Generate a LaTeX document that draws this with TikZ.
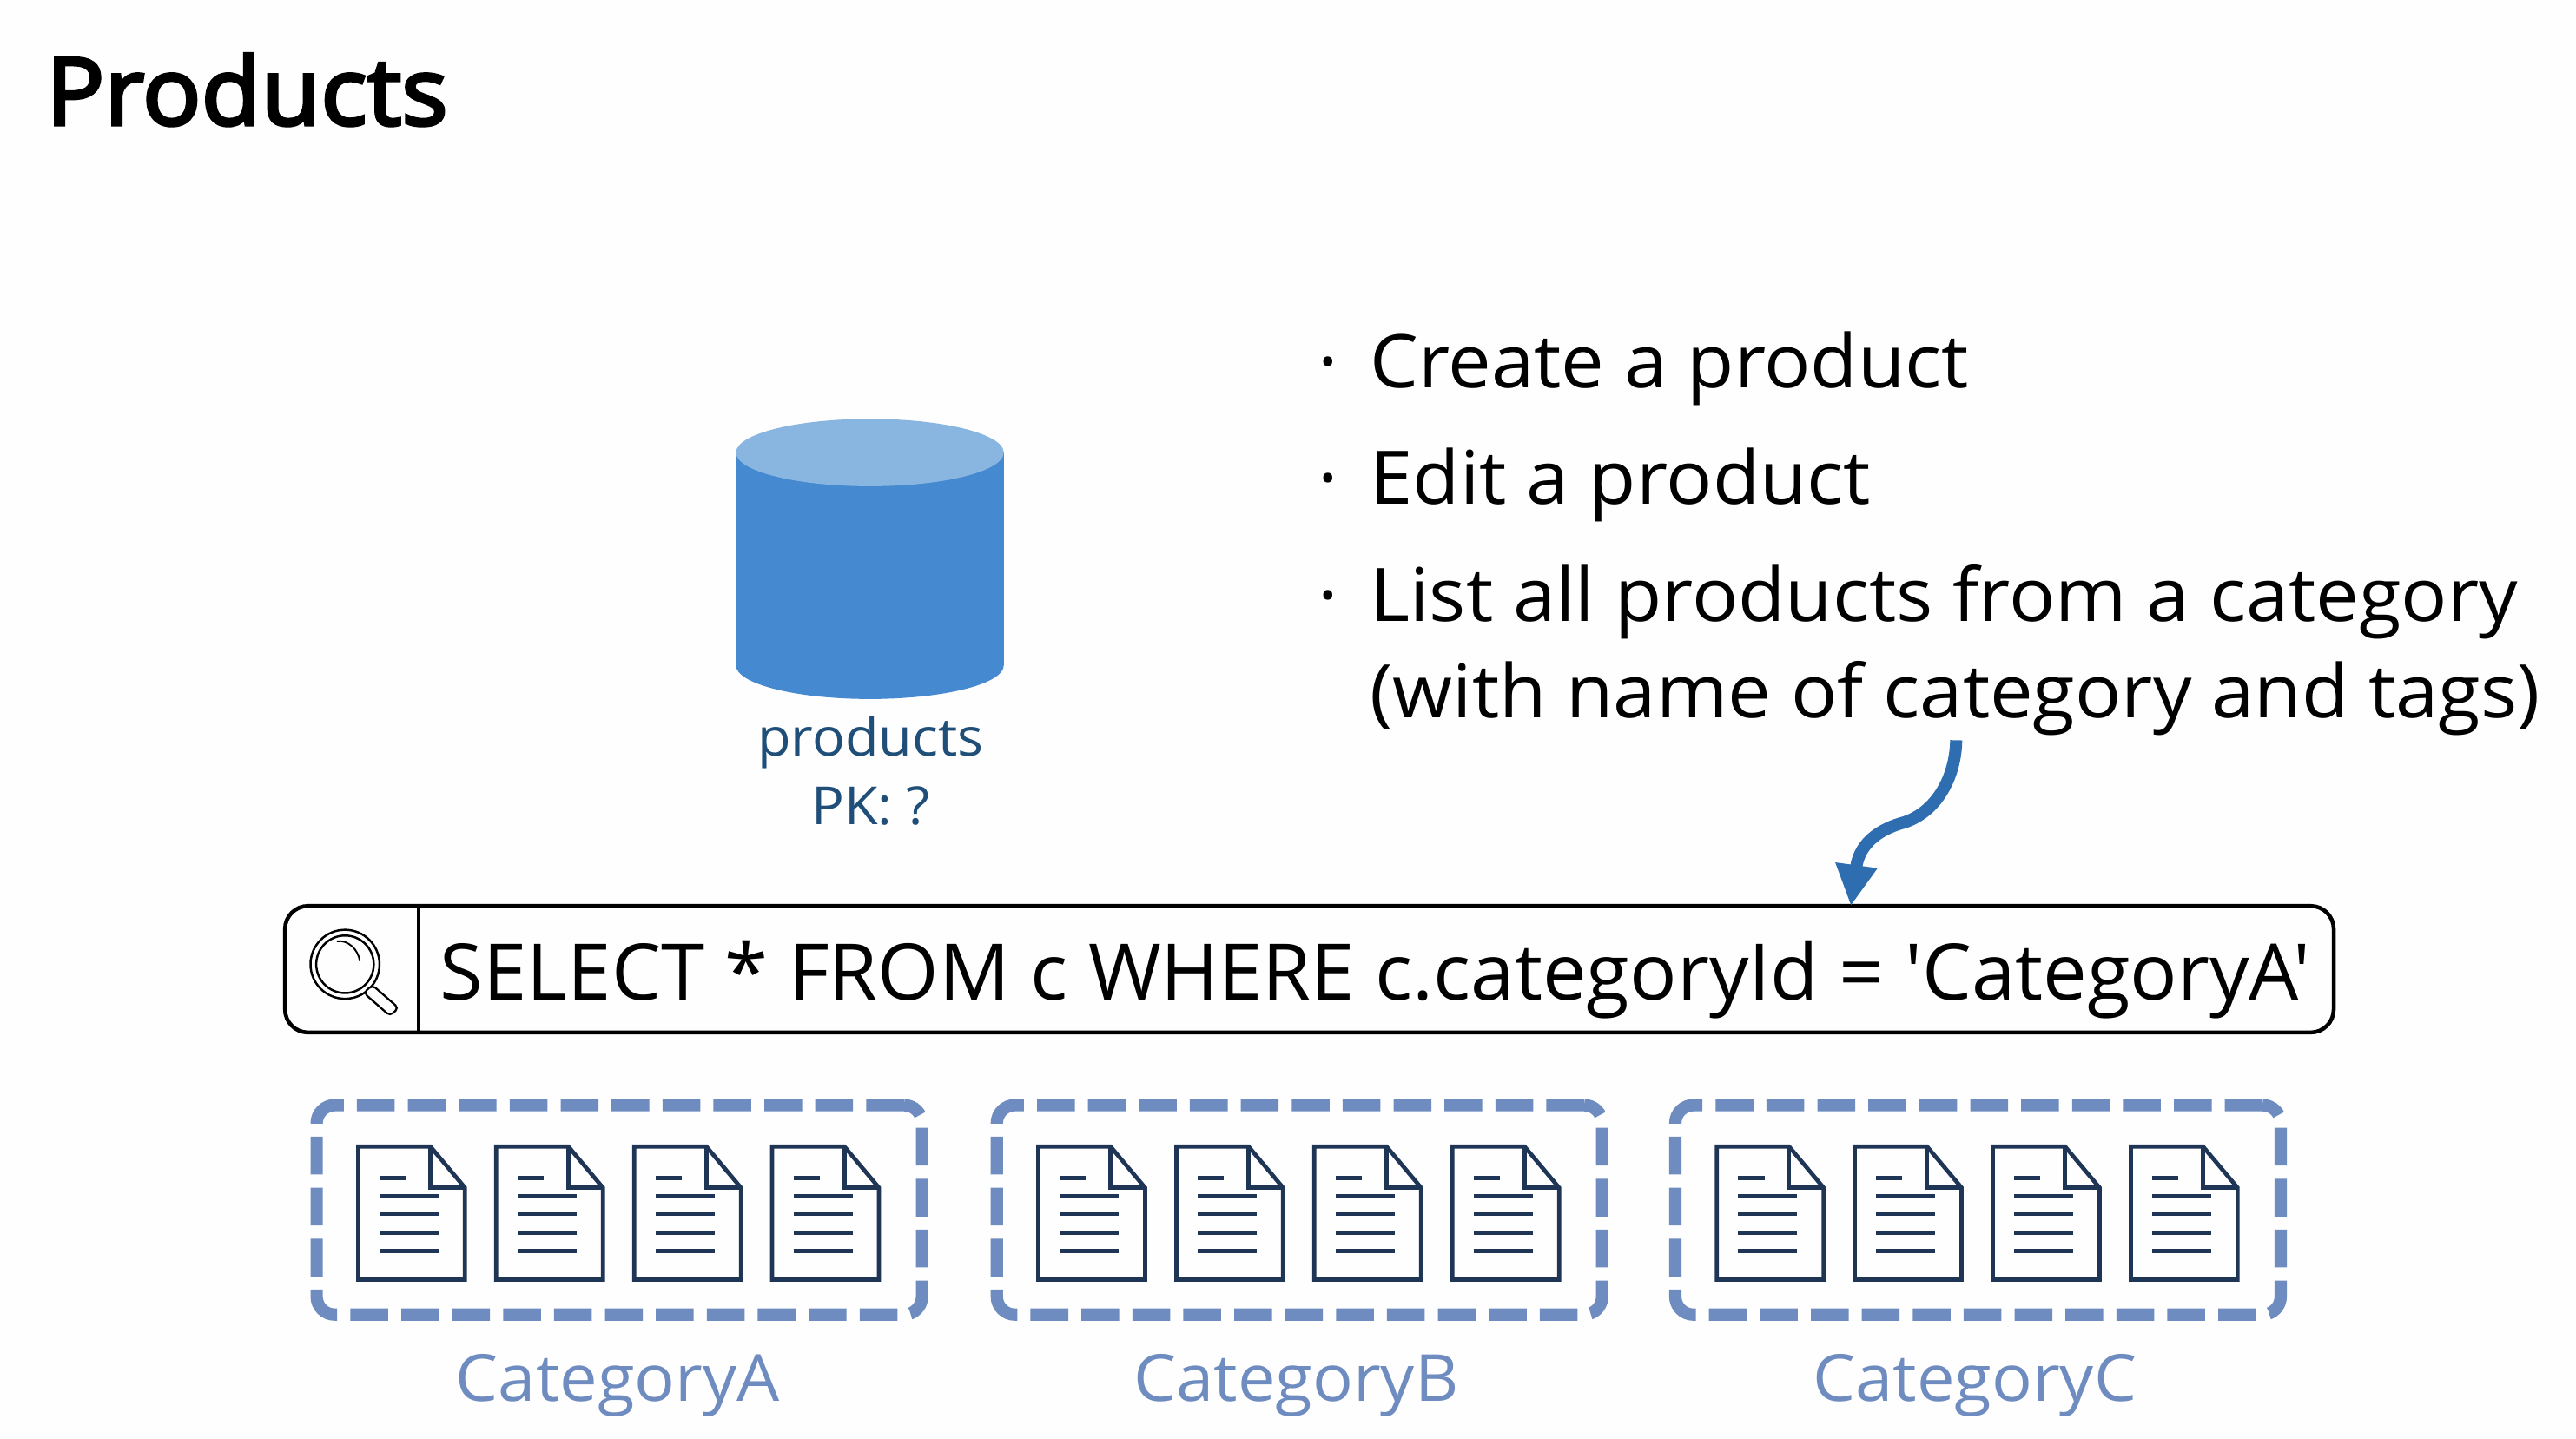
\documentclass[tikz,border=0pt]{standalone}
\usepackage{fontspec}
\setmainfont[FakeStretch=1.04]{Open Sans}
\newfontfamily\titlefont[RawFeature={extend=1.04;embolden=3.5}]{Open Sans}
\newfontfamily\queryfont[FakeStretch=1.007]{Open Sans}
\usetikzlibrary{arrows.meta}
\definecolor{bgc}{HTML}{FEFEFE}
\definecolor{dashc}{HTML}{6F8CC0}
\definecolor{docc}{HTML}{1F3556}
\definecolor{cylbody}{HTML}{4589D0}
\definecolor{cyltop}{HTML}{89B6E0}
\definecolor{dbtext}{HTML}{1F4E79}
\definecolor{arrowc}{HTML}{2E6DB0}
\tikzset{
  x=1pt,y=-1pt,
  plain/.style={inner sep=0pt,outer sep=0pt,anchor=base west},
  bullettext/.style={plain,font=\fontsize{45}{54}\selectfont,text=black},
  bulletdot/.style={plain,font=\fontsize{45}{54}\selectfont,text=black},
  dbtextstyle/.style={inner sep=0pt,outer sep=0pt,anchor=base,font=\fontsize{32}{40}\selectfont,text=dbtext},
  catbox/.style={draw=dashc,line width=7.5pt,rounded corners=11pt,dash pattern=on 23pt off 8pt,minimum width=368.5pt,minimum height=127.5pt,inner sep=0pt,outer sep=0pt,anchor=north west},
  catlabel/.style={inner sep=0pt,outer sep=0pt,anchor=base,font=\fontsize{39.5}{46}\selectfont,text=dashc},
  searchbox/.style={draw=black,line width=2.4pt,rounded corners=14pt,minimum width=1247pt,minimum height=77pt,inner sep=0pt,outer sep=0pt,anchor=north west},
  docicon/.pic={
    \draw[docc,line width=2.5pt,line join=miter] (0,0) -- (44,0) -- (65,25) -- (65,81) -- (0,81) -- cycle;
    \draw[docc,line width=2.5pt] (44,0) -- (44,25) -- (65,25);
    \draw[docc,line width=2.5pt] (13,19) -- (29,19);
    \foreach \ly in {30,41,52.5,63.5} \draw[docc,line width=2.5pt] (13,\ly) -- (49,\ly);
  }
}
\begin{document}
\begin{tikzpicture}
\useasboundingbox[fill=bgc] (0,0) rectangle (1568,875.5);

% title
\node[plain,font=\titlefont\fontsize{57}{68}\selectfont] (title) at (28,76) {Products};

% bullets
\node[bulletdot] (b1) at (802,236) {·};
\node[bullettext] (t1) at (834,236) {Create a product};
\node[bulletdot] (b2) at (802,307) {·};
\node[bullettext] (t2) at (834,307) {Edit a product};
\node[bulletdot] (b3) at (802,378) {·};
\node[bullettext] (t3) at (834,378) {List all products from a category};
\node[bullettext] (t4) at (834,437) {(with name of category and tags)};

% database
\fill[cylbody] (448,275) -- (448,405) arc[start angle=180,end angle=360,x radius=81.5,y radius=-20.5] -- (611,275) -- cycle;
\fill[cyltop] (529.5,275.5) ellipse[x radius=81.5,y radius=20.5];
\node[dbtextstyle] (db1) at (530,460) {products};
\node[dbtextstyle] (db2) at (530,502) {PK: ?};

% search box
\node[searchbox] (search) at (173.5,551.5) {};
\draw[black,line width=2pt] (255,551.5) -- (255,628.5);
\node[plain,font=\queryfont\fontsize{47.5}{56}\selectfont] (query) at (268,609) {SELECT * FROM c WHERE c.categoryId = 'CategoryA'};

% magnifier
\draw[black,line width=1.3pt] (210,587) circle[radius=21];
\draw[black,line width=1.3pt] (210,587) circle[radius=17.5];
\draw[black,line width=1pt] (205,573) .. controls (212,572) and (218,578) .. (219,585);
\draw[black,line width=1.2pt,rounded corners=2.5pt,fill=bgc]
  (226.6,599.6) -- (242.6,613.6) -- (237.4,618.4) -- (221.4,604.4) -- cycle;

% category groups
\foreach \nm/\dx/\lab/\lx in {A/0/CategoryA/376,B/414/CategoryB/789,C/827/CategoryC/1202}{
  \node[catbox] (box\nm) at (192.75+\dx,672.75) {};
  \foreach \ox in {218,302,386,470}
    \pic at (\ox+\dx,698) {docicon};
  \node[catlabel] (label\nm) at (\lx,853) {\lab};
}

% arrow
\coordinate (arrowstart) at (1190.7,450.6);
\coordinate (arrowtip) at (search.north -| 1126.6,0);
\draw[arrowc,line width=7.4pt,-{Triangle[length=25pt,width=24pt]}]
  (arrowstart) .. controls (1190.5,470) and (1181,493) .. (1159.5,500.5)
  .. controls (1146,504) and (1132,512) .. (arrowtip);
\end{tikzpicture}
\end{document}
